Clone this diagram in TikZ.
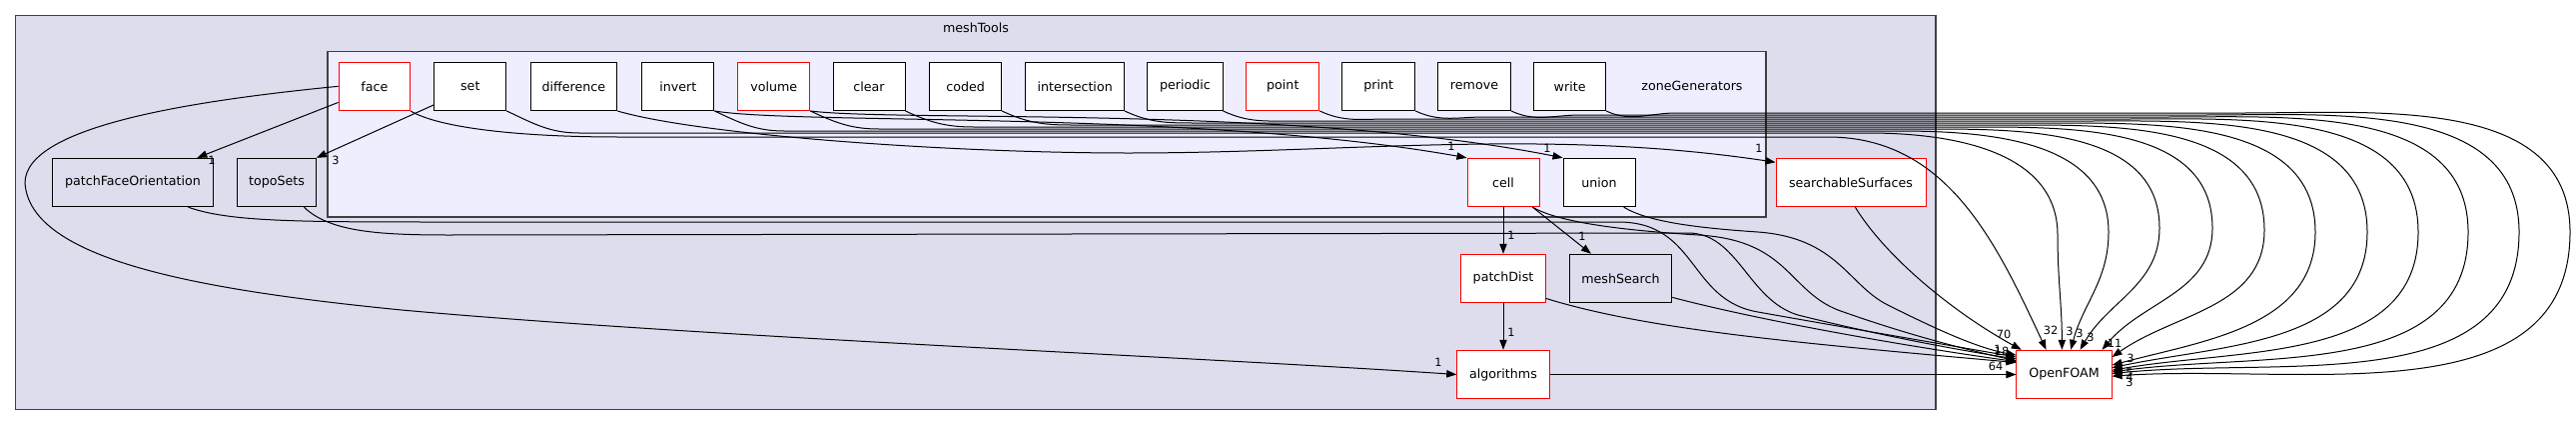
\documentclass[tikz,border=0pt]{standalone}
\usepackage{fontspec}
\setmainfont{DejaVu Sans}
\usetikzlibrary{arrows.meta}

\definecolor{meshbg}{HTML}{DDDDEE}
\definecolor{zonebg}{HTML}{EEEEFF}
\definecolor{clusterline}{HTML}{404040}

\begin{document}
\begin{tikzpicture}[x=0.75pt, y=0.75pt, line width=0.75pt,
  dirbox/.style={draw=black, fill=white, line width=0.75pt, minimum width=54pt,
    minimum height=36.3pt, inner sep=0pt, font=\fontsize{9.5}{11}\selectfont},
  dirred/.style={dirbox, draw=red},
  dirext/.style={dirbox, fill=meshbg},
  dep/.style={-{Triangle[length=7.5pt,width=5.5pt]}, line width=0.75pt},
  lab/.style={font=\fontsize{8.5}{9}\selectfont, inner sep=0pt},
  cluster/.style={draw=clusterline, line width=1pt}]
  \useasboundingbox (0,0) rectangle (2579,-425);

  % clusters
  \filldraw[cluster, fill=meshbg] (15.5,-15.7) rectangle (1938,-409.3);
  \node[font=\fontsize{9.5}{11}\selectfont] (meshToolsName) at (977,-27.7) {meshTools};
  \filldraw[cluster, fill=zonebg] (328,-51.7) rectangle (1768,-217);
  \node[font=\fontsize{9.5}{11}\selectfont] (zoneName) at (1694,-85.7) {zoneGenerators};

  % zoneGenerators
  \node[dirred, minimum width=53.6pt] (face) at (374.8,-86.3) {face};
  \node[dirbox] (set) at (470.8,-86.3) {set};
  \node[dirbox, minimum width=65pt] (difference) at (574.4,-86.3) {difference};
  \node[dirbox] (invert) at (678.9,-86.3) {invert};
  \node[dirred] (volume) at (774.8,-86.3) {volume};
  \node[dirbox] (clear) at (870,-86.3) {clear};
  \node[dirbox] (coded) at (966.6,-86.3) {coded};
  \node[dirbox, minimum width=74pt] (intersection) at (1076.2,-86.3) {intersection};
  \node[dirbox, minimum width=56.3pt] (periodic) at (1186.5,-86.3) {periodic};
  \node[dirred, minimum width=54.8pt] (point) at (1284.3,-86.3) {point};
  \node[dirbox, minimum width=54.8pt] (print) at (1380.2,-86.3) {print};
  \node[dirbox, minimum width=54.8pt] (remove) at (1476,-86.3) {remove};
  \node[dirbox] (write) at (1571.6,-86.3) {write};
  \node[dirred] (cell) at (1505,-182.5) {cell};
  \node[dirbox] (union) at (1601,-182.5) {union};

  % meshTools
  \node[dirext, minimum width=120.2pt] (patchFaceOrientation) at (133,-182.5) {patchFaceOrientation};
  \node[dirext, minimum width=59pt] (topoSets) at (277,-182.5) {topoSets};
  \node[dirred, minimum width=112.5pt] (searchableSurfaces) at (1853,-182.5) {searchableSurfaces};
  \node[dirred, minimum width=63.4pt] (patchDist) at (1505,-278.5) {patchDist};
  \node[dirext, minimum width=77.1pt] (meshSearch) at (1622.4,-278.5) {meshSearch};
  \node[dirred, minimum width=69.4pt] (algorithms) at (1505,-374.5) {algorithms};
  \node[dirred, minimum width=71.3pt] (OpenFOAM) at (2066.5,-374.5) {OpenFOAM};

  % dependencies inside meshTools
  \draw[dep] (face.204) -- (patchFaceOrientation.21);
  \draw[dep] (set.207) -- (topoSets.north east);
  \draw[dep] (face.west) .. controls (200,-100) and (25,-125) .. (25,-183)
    .. controls (30,-260) and (200,-290) .. (402,-310)
    .. controls (700,-337) and (1200,-357) .. (algorithms.west);
  \draw[dep] (difference.south east) .. controls (700,-135) and (950,-153) .. (1130,-153)
    .. controls (1350,-153) and (1550,-128) .. (searchableSurfaces.165);
  \draw[dep] (invert.south east) .. controls (800,-125) and (1200,-110) .. (cell.north west);
  \draw[dep] (volume.south east) .. controls (900,-122) and (1300,-105) .. (union.north west);
  \draw[dep] (cell) -- (patchDist);
  \draw[dep] (cell.-40) -- (meshSearch.140);
  \draw[dep] (patchDist) -- (algorithms);

  % dependencies on OpenFOAM, top row
  \draw[dep] (face.south east) .. controls (440,-128) and (520,-137) .. (620,-137)
    -- (1830,-137) to[out=0,in=115] (OpenFOAM.126);
  \draw[dep] (set.south east) to[out=-25,in=180] (580,-133) -- (1870,-133)
    to[out=0,in=90] (2060,-235) to[out=-90,in=90] (OpenFOAM.95);
  \draw[dep] (invert.south east) to[out=-25,in=180] (785,-131) -- (1900,-131)
    to[out=0,in=90] (2111,-232) to[out=-90,in=75] (OpenFOAM.75);
  \draw[dep] (volume.south east) to[out=-25,in=180] (880,-129) -- (1935,-129)
    to[out=0,in=90] (2162,-228) to[out=-90,in=60] (OpenFOAM.57);
  \draw[dep] (clear.south east) to[out=-25,in=180] (975,-127) -- (1975,-127)
    to[out=0,in=90] (2215,-228) to[out=-90,in=50] (OpenFOAM.33);
  \draw[dep] (coded.south east) to[out=-25,in=180] (1072,-125) -- (2015,-125)
    to[out=0,in=90] (2267,-230) to[out=-90,in=35] (OpenFOAM.20);
  \draw[dep] (intersection.south east) to[out=-25,in=180] (1195,-123) -- (2055,-123)
    to[out=0,in=90] (2318,-232) to[out=-90,in=15] (OpenFOAM.11);
  \draw[dep] (periodic.south east) to[out=-25,in=180] (1294,-121) -- (2092,-121)
    to[out=0,in=90] (2370,-232) to[out=-90,in=12] (OpenFOAM.8);
  \draw[dep] (point.south east) to[out=-25,in=180] (1390,-119) -- (2130,-119)
    to[out=0,in=90] (2421,-232) to[out=-90,in=10] (OpenFOAM.5);
  \draw[dep] (print.south east) to[out=-25,in=180] (1486,-117) -- (2168,-117)
    to[out=0,in=90] (2471,-232) to[out=-90,in=8] (OpenFOAM.3);
  \draw[dep] (remove.south east) to[out=-25,in=180] (1582,-115) -- (2206,-115)
    to[out=0,in=90] (2522,-232) to[out=-90,in=6] (OpenFOAM.1);
  \draw[dep] (write.south east) to[out=-25,in=180] (1678,-113) -- (2245,-113)
    to[out=0,in=90] (2573,-232) to[out=-90,in=4] (OpenFOAM.-2);

  % dependencies on OpenFOAM, lower part
  \draw[dep] (patchFaceOrientation.-24) .. controls (230,-222) and (300,-222) .. (450,-222)
    -- (1620,-222) .. controls (1700,-222) and (1690,-300) .. (1760,-312)
    .. controls (1850,-328) and (1950,-345) .. (OpenFOAM.160);
  \draw[dep] (topoSets.-42) .. controls (330,-232) and (380,-235) .. (450,-235)
    -- (1690,-233) .. controls (1740,-233) and (1750,-300) .. (1800,-315)
    .. controls (1880,-335) and (1960,-350) .. (OpenFOAM.162);
  \draw[dep] (cell.-40) .. controls (1560,-222) and (1620,-230) .. (1700,-235)
    .. controls (1790,-240) and (1790,-290) .. (1840,-310)
    .. controls (1910,-335) and (1970,-350) .. (OpenFOAM.164);
  \draw[dep] (union.-45) .. controls (1650,-222) and (1700,-228) .. (1760,-232)
    .. controls (1840,-238) and (1850,-285) .. (1890,-305)
    .. controls (1940,-330) and (1980,-348) .. (OpenFOAM.158);
  \draw[dep] (patchDist.-25) .. controls (1650,-330) and (1800,-343) .. (OpenFOAM.166);
  \draw[dep] (meshSearch.-20) .. controls (1760,-320) and (1900,-345) .. (OpenFOAM.165);
  \draw[dep] (searchableSurfaces.-80) .. controls (1890,-260) and (1960,-315) .. (OpenFOAM.150);
  \draw[dep] (algorithms) -- (OpenFOAM);

  % edge labels
  \node[lab] (lFaceOrient) at (212,-160) {1};
  \node[lab] (lSetTopo) at (336,-160) {3};
  \node[lab] (lFaceAlgo) at (1440,-362) {1};
  \node[lab] (lCell) at (1453,-146) {1};
  \node[lab] (lUnion) at (1549,-148) {1};
  \node[lab] (lSearch) at (1761,-148) {1};
  \node[lab] (lPatchDist) at (1513,-235) {1};
  \node[lab] (lMeshSearch) at (1584,-236) {1};
  \node[lab] (lAlgo) at (1513,-332) {1};
  \node[lab] (lOf70) at (2006,-334) {70};
  \node[lab] (lOf32) at (2053,-330) {32};
  \node[lab] (lOfA) at (2072,-331) {3};
  \node[lab] (lOfB) at (2082,-333) {3};
  \node[lab] (lOfC) at (2093,-337) {3};
  \node[lab] (lOf11) at (2117,-343) {11};
  \node[lab] (lOfD) at (2133,-358) {3};
  \node[lab] (lOfE) at (2132,-372) {5};
  \node[lab] (lOfF) at (2132,-377) {4};
  \node[lab] (lOfG) at (2132,-382) {3};
  \node[lab] (lOfH) at (2000,-349) {1};
  \node[lab] (lOfI) at (2004,-351) {18};
  \node[lab] (lOf64) at (1998,-366) {64};
\end{tikzpicture}
\end{document}
